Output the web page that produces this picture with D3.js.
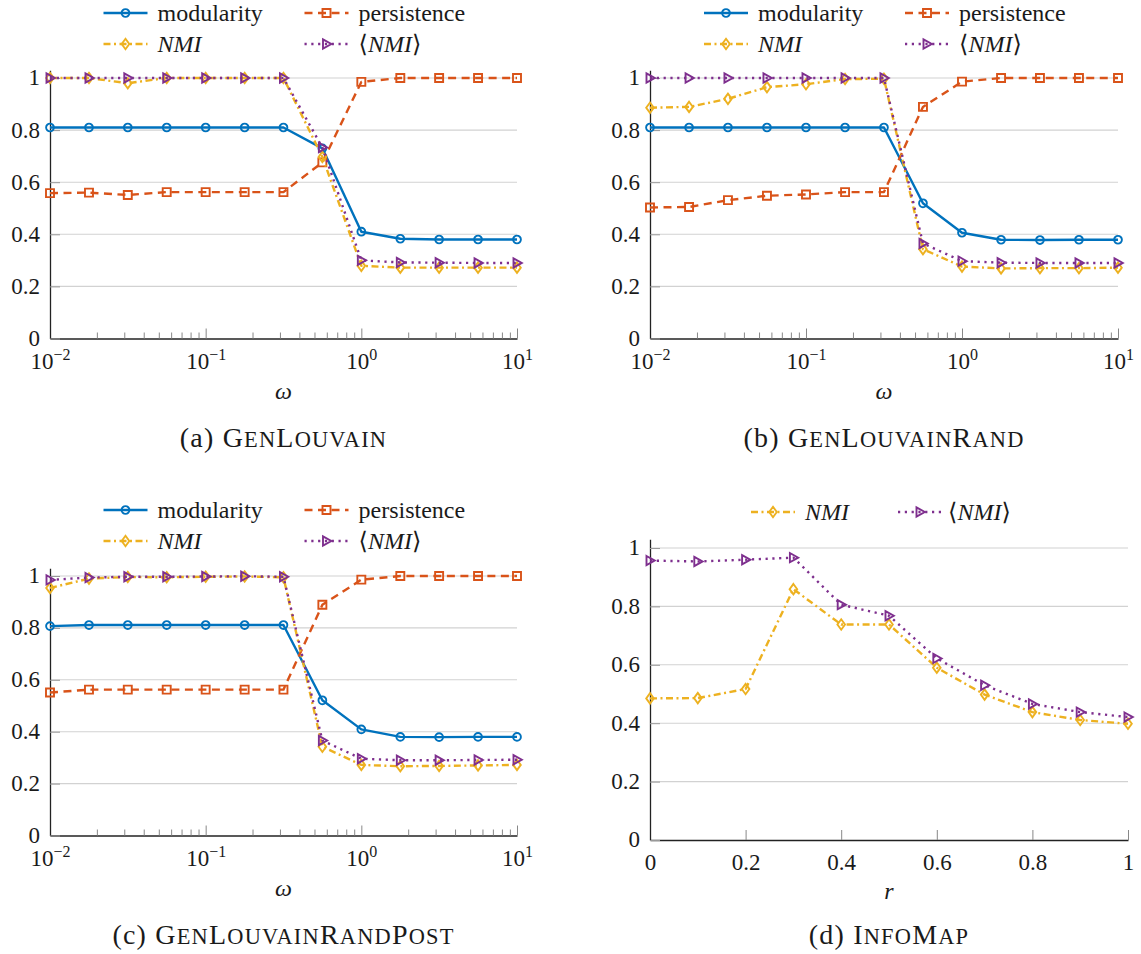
<!DOCTYPE html>
<html lang="en">
<head>
<meta charset="utf-8">
<title>Modularity / persistence / NMI</title>
<script src="https://d3js.org/d3.v7.min.js"></script>
<style>
  body { margin: 0; background: #fff; }
</style>
</head>
<body>
<div id="vis"></div>
<script>
// interlayer coupling omega, 4 steps per decade (panels a-c)
var omega = [0.01, 0.0178, 0.0316, 0.0562, 0.1, 0.178, 0.316, 0.562, 1, 1.78, 3.16, 5.62, 10];
// relabelling probability r (panel d)
var rValues = [0, 0.1, 0.2, 0.3, 0.4, 0.5, 0.6, 0.7, 0.8, 0.9, 1];

// (a) GenLouvain
var modA  = [0.81, 0.81, 0.81, 0.81, 0.81, 0.81, 0.81, 0.73, 0.41, 0.383, 0.38, 0.38, 0.38];
var persA = [0.558, 0.56, 0.551, 0.562, 0.562, 0.562, 0.562, 0.676, 0.985, 1, 1, 1, 1];
var nmiA  = [1, 1, 0.98, 1, 1, 1, 1, 0.697, 0.279, 0.272, 0.272, 0.272, 0.272];
var avgA  = [1, 1, 1, 1, 1, 1, 1, 0.733, 0.30, 0.292, 0.291, 0.29, 0.29];

// (b) GenLouvainRand
var modB  = [0.81, 0.81, 0.81, 0.81, 0.81, 0.81, 0.81, 0.519, 0.406, 0.379, 0.378, 0.379, 0.379];
var persB = [0.503, 0.505, 0.531, 0.548, 0.553, 0.562, 0.562, 0.889, 0.986, 1, 1, 1, 1];
var nmiB  = [0.886, 0.889, 0.92, 0.965, 0.976, 0.996, 0.997, 0.343, 0.276, 0.269, 0.27, 0.27, 0.272];
var avgB  = [1, 1, 1, 1, 1, 1, 1, 0.365, 0.297, 0.291, 0.29, 0.29, 0.29];

// (c) GenLouvainRandPost
var modC  = [0.807, 0.811, 0.811, 0.811, 0.811, 0.811, 0.811, 0.521, 0.409, 0.38, 0.379, 0.38, 0.38];
var persC = [0.551, 0.562, 0.562, 0.562, 0.562, 0.562, 0.562, 0.889, 0.986, 1, 1, 1, 1];
var nmiC  = [0.954, 0.99, 0.996, 0.995, 0.997, 0.998, 0.995, 0.342, 0.272, 0.267, 0.268, 0.27, 0.272];
var avgC  = [0.985, 0.994, 0.997, 0.997, 0.998, 0.999, 0.997, 0.366, 0.296, 0.29, 0.29, 0.291, 0.292];

// (d) InfoMap
var nmiD  = [0.485, 0.486, 0.517, 0.859, 0.738, 0.738, 0.59, 0.498, 0.438, 0.411, 0.398];
var avgD  = [0.957, 0.954, 0.96, 0.967, 0.806, 0.768, 0.622, 0.53, 0.466, 0.438, 0.421];

var yTicks = [0, 0.2, 0.4, 0.6, 0.8, 1];
var yTickLabels = ["0", "0.2", "0.4", "0.6", "0.8", "1"];
var omegaTicks = [0.01, 0.1, 1, 10];
var omegaExponents = ["\u22122", "\u22121", "0", "1"];
var omegaMinor = [0.02, 0.03, 0.04, 0.05, 0.06, 0.07, 0.08, 0.09,
                  0.2, 0.3, 0.4, 0.5, 0.6, 0.7, 0.8, 0.9,
                  2, 3, 4, 5, 6, 7, 8, 9];
var rTicks = [0, 0.2, 0.4, 0.6, 0.8, 1];
var rTickLabels = ["0", "0.2", "0.4", "0.6", "0.8", "1"];

var serif = "'Liberation Serif', 'DejaVu Serif', serif";

var styles = {
  mod:  {color: "#0072bd", dash: null,          mark: "circle"},
  pers: {color: "#d95319", dash: "8,5.5",       mark: "square"},
  nmi:  {color: "#edb120", dash: "7,3.5,2,3.5", mark: "diamond"},
  avg:  {color: "#7e2f8e", dash: "2.2,4.6",     mark: "triangle"}
};

var svg = d3.select("#vis").append("svg")
  .attr("width", 1141)
  .attr("height", 954)
  .style("font-family", serif);
svg.append("rect").attr("width", 1141).attr("height", 954).attr("fill", "#fff");

function markPath(type) {
  if (type == "circle") return "M3.9,0A3.9,3.9 0 1,1 -3.9,0A3.9,3.9 0 1,1 3.9,0Z";
  if (type == "square") return "M-4,-4H4V4H-4Z";
  if (type == "diamond") return "M0,-5.2L3.8,0L0,5.2L-3.8,0Z";
  return "M-3.5,-4.6L4.8,0L-3.5,4.6Z";
}

function drawMarks(g, type, color, pts) {
  g.selectAll(null).data(pts).enter().append("path")
    .attr("d", markPath(type))
    .attr("transform", function(p) { return "translate(" + p[0] + "," + p[1] + ")"; })
    .attr("fill", "none")
    .attr("stroke", color)
    .attr("stroke-width", 1.9);
}

function txt(sel, size) {
  return sel.style("font-family", serif).attr("font-size", size).attr("fill", "#1a1a1a");
}

function setLabel(sel, key) {
  if (key == "mod") sel.text("modularity");
  else if (key == "pers") sel.text("persistence");
  else if (key == "nmi") sel.append("tspan").style("font-style", "italic").text("NMI");
  else {
    sel.append("tspan").text("\u27e8");
    sel.append("tspan").style("font-style", "italic").text("NMI");
    sel.append("tspan").text("\u27e9");
  }
}

// small caps by hand: capitals full size, lower case as smaller capitals
function smallCaps(sel, word, size) {
  var parts = word.match(/[A-Z][a-z]*/g);
  parts.forEach(function(w) {
    sel.append("tspan").attr("font-size", size).text(w[0]);
    if (w.length > 1) sel.append("tspan").attr("font-size", size * 0.8).text(w.slice(1).toUpperCase());
  });
}

function drawPanel(p) {
  var g = svg.append("g");
  var cx = (p.x0 + p.x1) / 2;

  var x = p.log ? d3.scaleLog().domain([0.01, 10]).range([p.x0, p.x1])
                : d3.scaleLinear().domain([0, 1]).range([p.x0, p.x1]);
  var unit = p.yZero - p.yOne;
  var y = d3.scaleLinear().domain([0, 1.03]).range([p.yZero, p.yZero - 1.03 * unit]);

  // horizontal grid
  g.append("g").selectAll("line").data(yTicks.slice(1)).enter().append("line")
    .attr("x1", p.x0).attr("x2", p.x1)
    .attr("y1", function(d) { return y(d); })
    .attr("y2", function(d) { return y(d); })
    .attr("stroke", "#d2d2d2")
    .attr("stroke-width", 1.1);

  // x axis: ticks point inward
  var xAxis = d3.axisBottom(x).tickSizeOuter(0).tickSizeInner(-10).tickPadding(20)
    .tickValues(p.log ? omegaTicks : rTicks)
    .tickFormat(function(d, i) { return p.log ? "10" : rTickLabels[i]; });
  var xg = g.append("g").attr("transform", "translate(0," + p.yZero + ")").call(xAxis);
  xg.attr("font-family", null);
  xg.select(".domain").attr("stroke", "#222").attr("stroke-width", 1.3);
  xg.selectAll(".tick line").attr("stroke", "#888").attr("stroke-width", 1);
  txt(xg.selectAll("text"), 23).attr("dy", "0.45em");
  if (p.log) {
    xg.selectAll("text").each(function(d, i) {
      d3.select(this).append("tspan")
        .attr("font-size", 16)
        .attr("dy", -9)
        .text(omegaExponents[i]);
    });
    var minor = d3.axisBottom(x).tickValues(omegaMinor).tickSizeInner(-6).tickSizeOuter(0).tickFormat("");
    var mg = g.append("g").attr("transform", "translate(0," + p.yZero + ")").call(minor);
    mg.select(".domain").remove();
    mg.selectAll(".tick line").attr("stroke", "#888").attr("stroke-width", 1);
  }

  // y axis
  var yAxis = d3.axisLeft(y).tickValues(yTicks).tickSizeOuter(0).tickSizeInner(-10).tickPadding(10)
    .tickFormat(function(d, i) { return yTickLabels[i]; });
  var yg = g.append("g").attr("transform", "translate(" + p.x0 + ",0)").call(yAxis);
  yg.attr("font-family", null);
  yg.select(".domain").attr("stroke", "#222").attr("stroke-width", 1.3);
  yg.selectAll(".tick line").attr("stroke", "#999").attr("stroke-width", 1);
  txt(yg.selectAll("text"), 23).attr("dy", "0.3em");

  // series
  var xs = p.log ? omega : rValues;
  p.series.forEach(function(s) {
    var st = styles[s.key];
    var pts = xs.map(function(v, i) { return [x(v), y(s.values[i])]; });
    g.append("path")
      .attr("d", d3.line()(pts))
      .attr("fill", "none")
      .attr("stroke", st.color)
      .attr("stroke-width", 2.4)
      .attr("stroke-linejoin", "round")
      .attr("stroke-dasharray", st.dash);
    drawMarks(g, st.mark, st.color, pts);
  });

  // legend
  p.legend.forEach(function(e) {
    var st = styles[e.key];
    var ly = p.legendY[e.row];
    var mx = cx + e.mx;
    g.append("line")
      .attr("x1", mx - 22).attr("x2", mx + 22)
      .attr("y1", ly).attr("y2", ly)
      .attr("stroke", st.color)
      .attr("stroke-width", 2.4)
      .attr("stroke-dasharray", st.dash);
    drawMarks(g, st.mark, st.color, [[mx, ly]]);
    var t = txt(g.append("text"), 24)
      .attr("x", cx + e.tx)
      .attr("y", ly)
      .attr("dy", "0.33em");
    setLabel(t, e.key);
  });

  // axis label
  txt(g.append("text"), 24)
    .attr("x", cx).attr("y", p.xLabelY)
    .attr("text-anchor", "middle")
    .style("font-style", "italic")
    .text(p.log ? "\u03c9" : "r");

  // caption
  var c = txt(g.append("text"), 28)
    .attr("x", cx).attr("y", p.captionY)
    .attr("text-anchor", "middle")
    .attr("letter-spacing", 1.2);
  c.append("tspan").text("(" + p.id + ") ");
  smallCaps(c, p.caption, 28);
}

var legend4 = [
  {key: "mod",  row: 0, mx: -158, tx: -126},
  {key: "pers", row: 0, mx: 43,   tx: 75},
  {key: "nmi",  row: 1, mx: -158, tx: -126},
  {key: "avg",  row: 1, mx: 43,   tx: 75}
];

drawPanel({id: "a", caption: "GenLouvain", log: true,
  x0: 50, x1: 517, yOne: 78, yZero: 338.5, legendY: [13, 44], legend: legend4,
  xLabelY: 399, captionY: 447,
  series: [{key: "mod", values: modA}, {key: "pers", values: persA},
           {key: "nmi", values: nmiA}, {key: "avg", values: avgA}]});

drawPanel({id: "b", caption: "GenLouvainRand", log: true,
  x0: 650, x1: 1118, yOne: 78, yZero: 338.5, legendY: [13, 44], legend: legend4,
  xLabelY: 399, captionY: 447,
  series: [{key: "mod", values: modB}, {key: "pers", values: persB},
           {key: "nmi", values: nmiB}, {key: "avg", values: avgB}]});

drawPanel({id: "c", caption: "GenLouvainRandPost", log: true,
  x0: 50, x1: 517, yOne: 576, yZero: 835.5, legendY: [510, 541], legend: legend4,
  xLabelY: 896, captionY: 944,
  series: [{key: "mod", values: modC}, {key: "pers", values: persC},
           {key: "nmi", values: nmiC}, {key: "avg", values: avgC}]});

drawPanel({id: "d", caption: "InfoMap", log: false,
  x0: 650, x1: 1128, yOne: 548, yZero: 840, legendY: [512],
  legend: [{key: "nmi", row: 0, mx: -116, tx: -84}, {key: "avg", row: 0, mx: 31, tx: 59}],
  xLabelY: 899, captionY: 944,
  series: [{key: "nmi", values: nmiD}, {key: "avg", values: avgD}]});
</script>
</body>
</html>
